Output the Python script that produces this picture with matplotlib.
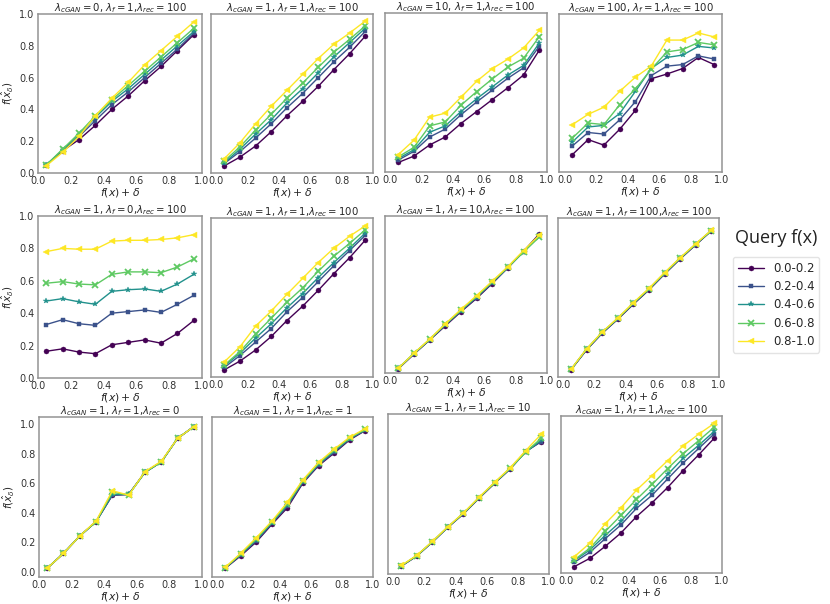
import matplotlib
matplotlib.use("Agg")
import matplotlib.pyplot as plt
import seaborn as sns

sns.set_style("white")
plt.rcParams['font.family'] = ['DejaVu Sans']

# x positions: f(x) + delta bin centres
x = [0.05, 0.15, 0.25, 0.35, 0.45, 0.55, 0.65, 0.75, 0.85, 0.95]
bins = ['0.0-0.2', '0.2-0.4', '0.4-0.6', '0.6-0.8', '0.8-1.0']
markers = ['o', 's', '*', 'x', '<']
colors = ['#440154', '#3b528b', '#21918c', '#5ec962', '#fde725']

# row 1: varying lambda_cGAN
cgan0 = [
    [0.05, 0.14, 0.21, 0.30, 0.40, 0.485, 0.58, 0.67, 0.77, 0.87],
    [0.05, 0.14, 0.23, 0.33, 0.43, 0.51, 0.60, 0.69, 0.78, 0.88],
    [0.05, 0.145, 0.24, 0.35, 0.45, 0.53, 0.62, 0.71, 0.80, 0.89],
    [0.05, 0.15, 0.25, 0.36, 0.46, 0.55, 0.64, 0.73, 0.82, 0.91],
    [0.045, 0.13, 0.23, 0.36, 0.47, 0.57, 0.68, 0.77, 0.86, 0.95],
]
cgan1 = [
    [0.045, 0.10, 0.17, 0.26, 0.36, 0.45, 0.545, 0.65, 0.75, 0.86],
    [0.06, 0.135, 0.22, 0.31, 0.41, 0.50, 0.60, 0.70, 0.79, 0.89],
    [0.065, 0.15, 0.245, 0.335, 0.44, 0.53, 0.63, 0.73, 0.82, 0.91],
    [0.075, 0.165, 0.27, 0.37, 0.47, 0.565, 0.665, 0.76, 0.84, 0.925],
    [0.09, 0.19, 0.31, 0.42, 0.52, 0.62, 0.72, 0.81, 0.88, 0.955],
]
cgan10 = [
    [0.06, 0.10, 0.17, 0.22, 0.305, 0.38, 0.455, 0.53, 0.61, 0.765],
    [0.075, 0.13, 0.22, 0.27, 0.36, 0.44, 0.515, 0.59, 0.655, 0.79],
    [0.085, 0.14, 0.25, 0.29, 0.38, 0.46, 0.535, 0.61, 0.67, 0.81],
    [0.095, 0.155, 0.29, 0.315, 0.42, 0.505, 0.585, 0.66, 0.715, 0.85],
    [0.11, 0.20, 0.345, 0.37, 0.47, 0.57, 0.65, 0.71, 0.78, 0.89],
]
cgan100 = [
    [0.11, 0.205, 0.17, 0.27, 0.39, 0.59, 0.62, 0.655, 0.725, 0.68],
    [0.165, 0.25, 0.24, 0.33, 0.445, 0.61, 0.67, 0.68, 0.735, 0.715],
    [0.19, 0.285, 0.295, 0.37, 0.51, 0.655, 0.725, 0.74, 0.795, 0.785],
    [0.215, 0.31, 0.30, 0.425, 0.525, 0.65, 0.76, 0.775, 0.82, 0.805],
    [0.30, 0.365, 0.41, 0.51, 0.60, 0.67, 0.835, 0.835, 0.88, 0.855],
]
# row 2: varying lambda_f
lf0 = [
    [0.165, 0.18, 0.16, 0.15, 0.205, 0.22, 0.235, 0.215, 0.275, 0.355],
    [0.33, 0.36, 0.335, 0.325, 0.40, 0.41, 0.42, 0.405, 0.455, 0.51],
    [0.475, 0.49, 0.47, 0.455, 0.535, 0.545, 0.55, 0.535, 0.58, 0.64],
    [0.585, 0.595, 0.58, 0.575, 0.64, 0.655, 0.655, 0.65, 0.685, 0.735],
    [0.78, 0.80, 0.795, 0.795, 0.845, 0.85, 0.85, 0.855, 0.865, 0.885],
]
lf1 = [
    [0.045, 0.10, 0.17, 0.255, 0.355, 0.445, 0.545, 0.65, 0.75, 0.86],
    [0.06, 0.135, 0.22, 0.305, 0.41, 0.50, 0.60, 0.70, 0.795, 0.89],
    [0.07, 0.15, 0.245, 0.335, 0.435, 0.525, 0.625, 0.72, 0.81, 0.905],
    [0.075, 0.16, 0.27, 0.37, 0.47, 0.56, 0.665, 0.76, 0.84, 0.925],
    [0.095, 0.19, 0.32, 0.415, 0.52, 0.62, 0.72, 0.81, 0.885, 0.95],
]
lf10 = [
    [0.027, 0.12, 0.21, 0.30, 0.39, 0.475, 0.57, 0.67, 0.775, 0.885],
    [0.028, 0.122, 0.21, 0.305, 0.393, 0.48, 0.573, 0.671, 0.773, 0.878],
    [0.03, 0.124, 0.213, 0.308, 0.398, 0.485, 0.578, 0.673, 0.772, 0.872],
    [0.03, 0.125, 0.214, 0.31, 0.40, 0.488, 0.58, 0.674, 0.77, 0.865],
    [0.03, 0.126, 0.216, 0.313, 0.405, 0.493, 0.585, 0.678, 0.78, 0.877],
]
lf100 = [
    [0.047, 0.172, 0.276, 0.364, 0.458, 0.548, 0.647, 0.742, 0.831, 0.918],
    [0.048, 0.174, 0.278, 0.366, 0.461, 0.551, 0.650, 0.744, 0.833, 0.919],
    [0.049, 0.176, 0.280, 0.368, 0.463, 0.553, 0.652, 0.746, 0.834, 0.920],
    [0.050, 0.177, 0.282, 0.370, 0.465, 0.555, 0.654, 0.748, 0.836, 0.921],
    [0.051, 0.179, 0.284, 0.372, 0.468, 0.558, 0.657, 0.750, 0.838, 0.923],
]
# row 3: varying lambda_rec
rec0 = [
    [0.024, 0.125, 0.243, 0.34, 0.52, 0.525, 0.675, 0.745, 0.905, 0.985],
    [0.024, 0.125, 0.243, 0.34, 0.52, 0.525, 0.675, 0.745, 0.905, 0.985],
    [0.024, 0.125, 0.243, 0.34, 0.525, 0.525, 0.675, 0.745, 0.905, 0.985],
    [0.024, 0.125, 0.243, 0.34, 0.54, 0.52, 0.675, 0.745, 0.905, 0.985],
    [0.024, 0.125, 0.243, 0.345, 0.55, 0.52, 0.68, 0.75, 0.905, 0.985],
]
rec1 = [
    [0.024, 0.109, 0.203, 0.322, 0.435, 0.603, 0.72, 0.805, 0.895, 0.958],
    [0.026, 0.114, 0.21, 0.328, 0.445, 0.608, 0.725, 0.81, 0.90, 0.96],
    [0.027, 0.118, 0.217, 0.333, 0.455, 0.613, 0.73, 0.818, 0.903, 0.963],
    [0.028, 0.122, 0.224, 0.338, 0.462, 0.618, 0.735, 0.825, 0.908, 0.966],
    [0.03, 0.127, 0.232, 0.344, 0.472, 0.625, 0.742, 0.832, 0.913, 0.971],
]
rec10 = [
    [0.022, 0.09, 0.183, 0.282, 0.372, 0.476, 0.576, 0.672, 0.79, 0.856],
    [0.023, 0.091, 0.184, 0.283, 0.373, 0.478, 0.578, 0.673, 0.788, 0.856],
    [0.024, 0.092, 0.185, 0.284, 0.375, 0.48, 0.58, 0.674, 0.785, 0.865],
    [0.025, 0.093, 0.186, 0.285, 0.376, 0.481, 0.581, 0.676, 0.785, 0.878],
    [0.027, 0.095, 0.188, 0.287, 0.378, 0.483, 0.583, 0.68, 0.795, 0.905],
]
rec100 = [
    [0.041, 0.095, 0.174, 0.26, 0.366, 0.456, 0.555, 0.665, 0.768, 0.876],
    [0.069, 0.134, 0.224, 0.312, 0.42, 0.505, 0.611, 0.715, 0.809, 0.904],
    [0.08, 0.15, 0.245, 0.335, 0.445, 0.535, 0.64, 0.745, 0.83, 0.92],
    [0.085, 0.161, 0.271, 0.374, 0.478, 0.575, 0.678, 0.775, 0.86, 0.947],
    [0.105, 0.194, 0.321, 0.424, 0.538, 0.633, 0.73, 0.826, 0.902, 0.972],
]

titles = [
    r'$\lambda_{cGAN}=0$, $\lambda_f=1$,$\lambda_{rec}=100$',
    r'$\lambda_{cGAN}=1$, $\lambda_f=1$,$\lambda_{rec}=100$',
    r'$\lambda_{cGAN}=10$, $\lambda_f=1$,$\lambda_{rec}=100$',
    r'$\lambda_{cGAN}=100$, $\lambda_f=1$,$\lambda_{rec}=100$',
    r'$\lambda_{cGAN}=1$, $\lambda_f=0$,$\lambda_{rec}=100$',
    r'$\lambda_{cGAN}=1$, $\lambda_f=1$,$\lambda_{rec}=100$',
    r'$\lambda_{cGAN}=1$, $\lambda_f=10$,$\lambda_{rec}=100$',
    r'$\lambda_{cGAN}=1$, $\lambda_f=100$,$\lambda_{rec}=100$',
    r'$\lambda_{cGAN}=1$, $\lambda_f=1$,$\lambda_{rec}=0$',
    r'$\lambda_{cGAN}=1$, $\lambda_f=1$,$\lambda_{rec}=1$',
    r'$\lambda_{cGAN}=1$, $\lambda_f=1$,$\lambda_{rec}=10$',
    r'$\lambda_{cGAN}=1$, $\lambda_f=1$,$\lambda_{rec}=100$',
]
panels = [cgan0, cgan1, cgan10, cgan100, lf0, lf1, lf10, lf100,
          rec0, rec1, rec10, rec100]

# axes boxes in pixels: left, top, right, bottom
boxes = [
    (38, 14, 202, 173), (211, 14, 373, 173), (385, 13, 547, 172), (559, 14, 722, 172),
    (38, 216, 202, 378), (211, 218, 373, 377), (385, 216, 547, 373), (558, 218, 719, 377),
    (39, 417, 202, 577), (212, 417, 373, 577), (388, 414, 549, 574), (561, 416, 722, 573),
]
ylims = [(0, 1)] * 8 + [(-0.035, 1.05), (-0.035, 1.05), (-0.03, 1.04), (0.0, 1.02)]
msizes = [3.6, 3.3, 4.4, 4.2, 4.8]
mews = [0.3, 0.3, 0.3, 1.3, 0.3]

W, H = 830, 604
fig = plt.figure(figsize=(W / 100, H / 100), dpi=100)

for i, (data, box) in enumerate(zip(panels, boxes)):
    l, t, r, b = box
    ax = fig.add_axes([l / W, 1 - b / H, (r - l) / W, (b - t) / H])
    for k in range(5):
        ax.plot(x, data[k], marker=markers[k], color=colors[k], lw=1,
                ms=msizes[k], mec=colors[k], mew=mews[k], label=bins[k])
    ax.set_xlim(0 if i % 4 == 0 else -0.035, 1.0)
    ax.set_ylim(*ylims[i])
    ax.set_xticks([0, 0.2, 0.4, 0.6, 0.8, 1.0])
    ax.set_yticks([0, 0.2, 0.4, 0.6, 0.8, 1.0])
    if i % 4 != 0:
        ax.set_yticklabels([])
    else:
        ax.set_ylabel(r'$f(\hat{x}_\delta)$', fontsize=7.5, labelpad=3)
    ax.tick_params(length=0, labelsize=7.0, pad=2.5, colors='#333333')
    ax.set_xlabel(r'$f(x) + \delta$', fontsize=7.8, labelpad=0)
    ax.set_title(titles[i], fontsize=7.3, pad=2)
    for s in ax.spines.values():
        s.set_color('#939393')
        s.set_linewidth(1.1)
    if i == 0:
        handles, labels = ax.get_legend_handles_labels()

fig.text(776 / W, 1 - 238 / H, 'Query f(x)', family='Open Sans', fontsize=13,
         ha='center', va='center', color='#222222')
fig.legend(handles, labels, loc='upper left',
           bbox_to_anchor=(733 / W, 1 - 257 / H), borderaxespad=0,
           fontsize=8.5, handlelength=2.2, labelspacing=0.45,
           frameon=True, edgecolor='#dddddd')

fig.savefig('out.png', dpi=100)
